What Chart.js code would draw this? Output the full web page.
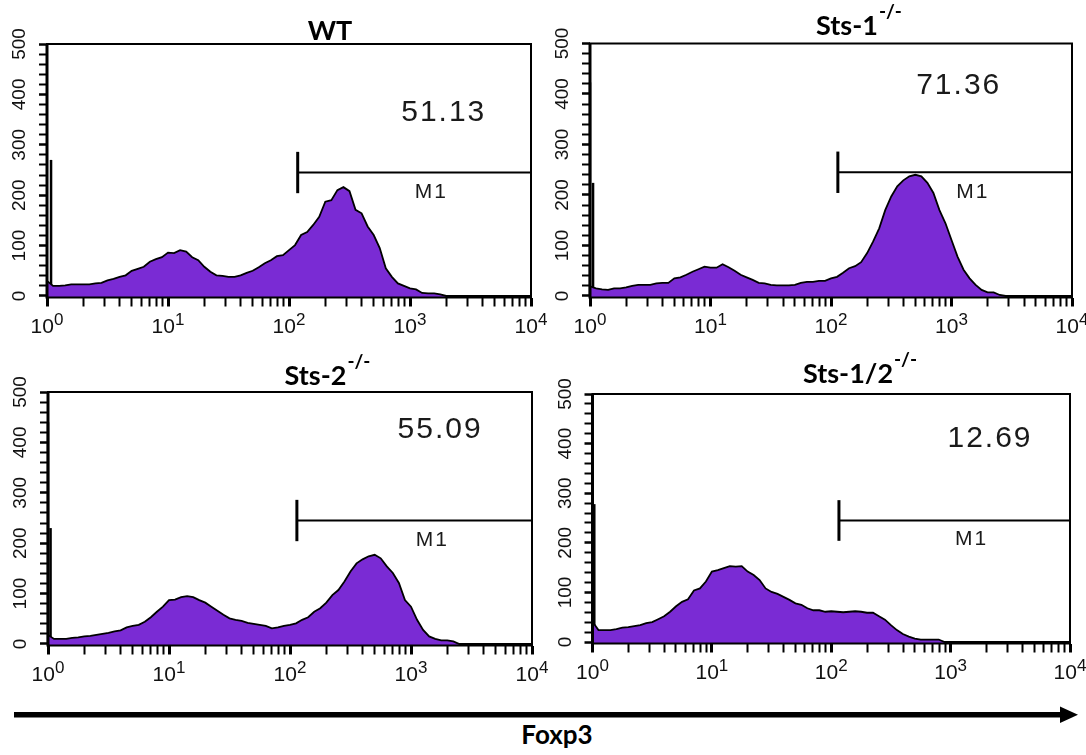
<!DOCTYPE html>
<html>
<head>
<meta charset="utf-8">
<script src="https://cdn.jsdelivr.net/npm/chart.js@4"></script>
<style>
  html, body { margin: 0; padding: 0; background: #fff; }
  #wrap { position: relative; width: 1086px; height: 755px; overflow: hidden; }
  #wrap canvas, #wrap svg { position: absolute; }
</style>
</head>
<body>
<div id="wrap">
  <svg width="1086" height="755" style="left:0;top:0">
    <rect x="14" y="712" width="1049" height="5.5" fill="#000"/>
    <polygon points="1060,706.5 1078,714.7 1060,723" fill="#000"/>
    <text x="557" y="744" text-anchor="middle" font-family="Lato" font-weight="bold" font-size="26">Foxp3</text>
  </svg>
  <canvas id="c1" width="552" height="340" style="left:0;top:0"></canvas>
  <canvas id="c2" width="546" height="340" style="left:540px;top:0"></canvas>
  <canvas id="c3" width="552" height="340" style="left:0;top:350px"></canvas>
  <canvas id="c4" width="546" height="340" style="left:540px;top:350px"></canvas>
</div>
<script>
// fluorescence channels (log spaced)
const channels = [
  1, 1.122, 1.259, 1.413, 1.585, 1.778, 1.995, 2.239, 2.512, 2.818,
  3.162, 3.548, 3.981, 4.467, 5.012, 5.623, 6.31, 7.079, 7.943, 8.913,
  10, 11.22, 12.59, 14.13, 15.85, 17.78, 19.95, 22.39, 25.12, 28.18,
  31.62, 35.48, 39.81, 44.67, 50.12, 56.23, 63.1, 70.79, 79.43, 89.13,
  100, 112.2, 125.9, 141.3, 158.5, 177.8, 199.5, 223.9, 251.2, 281.8,
  316.2, 354.8, 398.1, 446.7, 501.2, 562.3, 631, 707.9, 794.3, 891.3,
  1000, 1122, 1259, 1413, 1585, 1778, 1995, 2239, 2512, 2818,
  3162, 3548, 3981, 4467, 5012, 5623, 6310, 7079, 7943, 8913, 10000
];

const wtCounts = [
  30, 20, 20, 21, 23, 23, 23, 23, 25, 26,
  31, 34, 38, 41, 50, 54, 58, 68, 73, 77,
  86, 85, 91, 88, 77, 71, 58, 48, 41, 40,
  38, 38, 41, 46, 50, 57, 65, 71, 79, 81,
  91, 101, 121, 127, 141, 157, 187, 190, 210, 216,
  208, 171, 164, 138, 121, 95, 55, 38, 25, 20,
  15, 13, 6, 5, 5, 3, 0, 0, 0, 0,
  0, 0, 0, 0, 0, 0, 0, 0, 0, 0, 0
];
const sts1Counts = [
  19, 15, 13, 12, 15, 15, 17, 20, 22, 22,
  22, 25, 26, 26, 35, 37, 42, 48, 53, 58,
  56, 56, 63, 57, 50, 42, 37, 32, 26, 25,
  22, 21, 21, 21, 22, 26, 28, 28, 30, 30,
  35, 38, 46, 55, 59, 67, 85, 108, 134, 170,
  197, 217, 229, 237, 240, 237, 224, 204, 170, 144,
  111, 78, 52, 35, 22, 12, 7, 7, 2, 0,
  0, 0, 0, 0, 0, 0, 0, 0, 0, 0, 0
];
const sts2Counts = [
  18, 10, 10, 10, 12, 13, 15, 16, 18, 20,
  22, 25, 27, 33, 36, 38, 44, 53, 64, 74,
  87, 88, 93, 95, 93, 87, 82, 74, 66, 58,
  51, 48, 46, 42, 40, 38, 36, 31, 33, 36,
  38, 41, 48, 53, 64, 71, 82, 97, 107, 124,
  144, 160, 168, 174, 177, 170, 154, 141, 121, 87,
  74, 48, 28, 15, 10, 7, 7, 5, 0, 0,
  0, 0, 0, 0, 0, 0, 0, 0, 0, 0, 0
];
const sts12Counts = [
  41, 24, 24, 24, 26, 29, 30, 32, 34, 38,
  40, 46, 52, 61, 72, 81, 86, 104, 108, 122,
  142, 145, 149, 153, 152, 153, 142, 135, 125, 108,
  101, 97, 91, 85, 78, 75, 68, 64, 64, 61,
  62, 61, 60, 61, 62, 61, 59, 59, 52, 45,
  34, 24, 16, 11, 7, 5, 5, 5, 5, 0,
  0, 0, 0, 0, 0, 0, 0, 0, 0, 0,
  0, 0, 0, 0, 0, 0, 0, 0, 0, 0, 0
];

// pile-up in the first channel (thin black spikes)
const wtSpikeX = [1.08], wtSpikeY = [270];
const sts1SpikeX = [1, 1.06], sts1SpikeY = [423, 224];
const sts2SpikeX = [1, 1.05], sts2SpikeY = [440, 230];
const sts12SpikeX = [1.035], sts12SpikeY = [278];

// M1 gate
const gateStarts = [118, 114, 114, 116];
const gateEnd = 10000;
const gateLevel = 245;
const gateHalf = 41;
const gatePercents = ['51.13', '71.36', '55.09', '12.69'];

const panelTitles = ['WT', 'Sts-1', 'Sts-2', 'Sts-1/2'];
const titleSups = ['', '-/-', '-/-', '-/-'];
const xTickExps = [0, 1, 2, 3, 4];
const yTickLabels = [0, 100, 200, 300, 400, 500];

const decor = {
  id: 'decor',
  afterDraw(chart, args, o) {
    const { ctx, chartArea: a } = chart;
    const x = chart.scales.x, y = chart.scales.y;
    ctx.save();
    // frame
    ctx.strokeStyle = '#000';
    ctx.lineWidth = 2;
    ctx.strokeRect(a.left, a.top, a.right - a.left, a.bottom - a.top);
    ctx.lineWidth = 3;
    ctx.beginPath(); ctx.moveTo(a.left, a.top); ctx.lineTo(a.left, a.bottom + 1); ctx.stroke();

    ctx.fillStyle = '#111';
    // x tick labels 10^n
    xTickExps.forEach(n => {
      const px = x.getPixelForValue(Math.pow(10, n));
      ctx.font = '21px "Liberation Sans", Arial, sans-serif';
      const w1 = ctx.measureText('10').width;
      ctx.font = '17px "Liberation Sans", Arial, sans-serif';
      const w2 = ctx.measureText(String(n)).width;
      const left = px - (w1 + w2) / 2;
      const base = a.bottom + 35.5;
      ctx.textAlign = 'left';
      ctx.textBaseline = 'alphabetic';
      ctx.font = '21px "Liberation Sans", Arial, sans-serif';
      ctx.fillText('10', left, base);
      ctx.font = '17px "Liberation Sans", Arial, sans-serif';
      ctx.fillText(String(n), left + w1, base - 8.5);
    });
    // y tick labels, rotated
    yTickLabels.forEach(v => {
      const py = y.getPixelForValue(v);
      ctx.save();
      ctx.translate(a.left - 27, py);
      ctx.rotate(-Math.PI / 2);
      ctx.textAlign = 'center';
      ctx.textBaseline = 'middle';
      ctx.font = '19px "Liberation Sans Narrow", "Liberation Sans", sans-serif';
      ctx.fillText(String(v), 0, 0);
      ctx.restore();
    });

    // title with superscript
    ctx.fillStyle = '#000';
    ctx.font = 'bold 27px Lato, sans-serif';
    const tw = ctx.measureText(o.title).width;
    ctx.font = 'bold 19px Lato, sans-serif';
    const sw = o.sup ? ctx.measureText(o.sup).width : 0;
    const tl = o.titleX - (tw + sw) / 2;
    ctx.textAlign = 'left';
    ctx.textBaseline = 'alphabetic';
    ctx.font = 'bold 27px Lato, sans-serif';
    ctx.fillText(o.title, tl, o.titleY);
    if (o.sup) {
      ctx.font = 'bold 19px Lato, sans-serif';
      ctx.fillText(o.sup, tl + tw + 1, o.titleY - 17);
    }

    // percentage and gate name
    ctx.fillStyle = '#1a1a1a';
    ctx.textAlign = 'center';
    ctx.letterSpacing = '2px';
    ctx.font = '30px "Liberation Sans", Arial, sans-serif';
    ctx.fillText(o.value, x.getPixelForValue(o.valueX), y.getPixelForValue(o.valueY));
    ctx.font = '21px "Liberation Sans", Arial, sans-serif';
    ctx.fillText('M1', x.getPixelForValue(1500), y.getPixelForValue(195));
    ctx.restore();
  }
};

function logTicks() {
  const t = [];
  for (let d = 0; d < 4; d++) {
    for (let m = 1; m < 10; m++) t.push({ value: m * Math.pow(10, d), major: m === 1 });
  }
  t.push({ value: 10000, major: true });
  return t;
}

function makePanel(cfg) {
  const datasets = [{
    data: channels.map((c, i) => ({ x: c, y: cfg.counts[i] })),
    tension: 0,
    fill: 'start',
    backgroundColor: '#7a2bd4',
    borderColor: '#000',
    borderWidth: 1.8,
    pointRadius: 0
  }];
  cfg.spikeX.forEach((sx, i) => {
    datasets.push({
      data: [{ x: sx, y: 0 }, { x: sx, y: cfg.spikeY[i] }],
      borderColor: '#000', borderWidth: 2.5, pointRadius: 0, fill: false, clip: false
    });
  });
  datasets.push({
    data: [{ x: cfg.gate, y: gateLevel }, { x: gateEnd, y: gateLevel }],
    borderColor: '#000', borderWidth: 2.2, pointRadius: 0, fill: false, clip: false
  });
  datasets.push({
    data: [{ x: cfg.gate, y: gateLevel - gateHalf }, { x: cfg.gate, y: gateLevel + gateHalf }],
    borderColor: '#000', borderWidth: 3, pointRadius: 0, fill: false, clip: false
  });
  datasets.push({
    data: [{ x: gateEnd, y: gateLevel - gateHalf }, { x: gateEnd, y: gateLevel + gateHalf }],
    borderColor: '#000', borderWidth: 2, pointRadius: 0, fill: false, clip: false
  });

  new Chart(document.getElementById(cfg.id), {
    type: 'line',
    data: { datasets },
    plugins: [decor],
    options: {
      responsive: false,
      animation: false,
      events: [],
      layout: { padding: cfg.pad },
      plugins: {
        legend: { display: false },
        tooltip: { enabled: false },
        decor: {
          title: cfg.title, sup: cfg.sup, titleX: cfg.titleX, titleY: cfg.titleY,
          value: cfg.value, valueX: cfg.valueX, valueY: cfg.valueY
        }
      },
      scales: {
        x: {
          type: 'logarithmic', min: 1, max: 10000,
          afterBuildTicks: s => { s.ticks = logTicks(); },
          afterFit: s => { s.height = cfg.xHeight; },
          ticks: { display: false },
          border: { display: false },
          grid: {
            drawOnChartArea: false, drawTicks: true, tickLength: 9, tickColor: '#000',
            tickWidth: c => (c.tick && c.tick.major ? 3 : 2)
          }
        },
        y: {
          min: -3, max: 500,
          afterBuildTicks: s => {
            const t = [];
            for (let v = 0; v <= 500; v += 20) t.push({ value: v });
            s.ticks = t;
          },
          afterFit: s => { s.width = cfg.yWidth; },
          ticks: { display: false },
          border: { display: false },
          grid: {
            drawOnChartArea: false, drawTicks: true, tickLength: 8, tickColor: '#000',
            tickWidth: c => (c.tick && c.tick.value % 100 === 0 ? 2.5 : 2)
          }
        }
      }
    }
  });
}

makePanel({
  id: 'c1', counts: wtCounts, spikeX: wtSpikeX, spikeY: wtSpikeY, gate: gateStarts[0],
  title: panelTitles[0], sup: titleSups[0], titleX: 330, titleY: 40,
  value: gatePercents[0], valueX: 1900, valueY: 347,
  pad: { left: 0, top: 44, right: 21, bottom: 0 }, yWidth: 47, xHeight: 42.5
});
makePanel({
  id: 'c2', counts: sts1Counts, spikeX: sts1SpikeX, spikeY: sts1SpikeY, gate: gateStarts[1],
  title: panelTitles[1], sup: titleSups[1], titleX: 318.5, titleY: 35,
  value: gatePercents[1], valueX: 1148, valueY: 400,
  pad: { left: 0, top: 43.5, right: 14, bottom: 0 }, yWidth: 50, xHeight: 42.5
});
makePanel({
  id: 'c3', counts: sts2Counts, spikeX: sts2SpikeX, spikeY: sts2SpikeY, gate: gateStarts[2],
  title: panelTitles[2], sup: titleSups[2], titleX: 327, titleY: 35,
  value: gatePercents[2], valueX: 1738, valueY: 409,
  pad: { left: 0, top: 42, right: 20, bottom: 0 }, yWidth: 48, xHeight: 44.5
});
makePanel({
  id: 'c4', counts: sts12Counts, spikeX: sts12SpikeX, spikeY: sts12SpikeY, gate: gateStarts[3],
  title: panelTitles[3], sup: titleSups[3], titleX: 319.5, titleY: 33,
  value: gatePercents[3], valueX: 2138, valueY: 394,
  pad: { left: 0, top: 44, right: 16, bottom: 0 }, yWidth: 52.5, xHeight: 46.5
});
</script>
</body>
</html>
